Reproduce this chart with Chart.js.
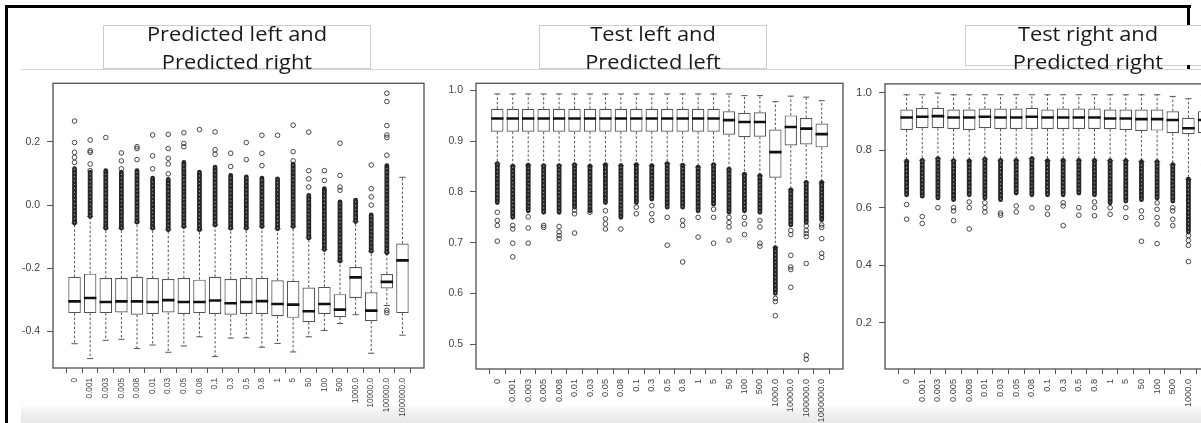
<!DOCTYPE html>
<html>
<head>
<meta charset="utf-8">
<script src="https://cdn.jsdelivr.net/npm/chart.js@4.4.1/dist/chart.umd.min.js"></script>
<style>
  html, body { margin: 0; padding: 0; background: #fff; }
  body { width: 1201px; height: 423px; overflow: hidden; position: relative; font-family: "Open Sans", sans-serif; }
  .abs { position: absolute; }
  canvas { position: absolute; }
  .tbox { position: absolute; border: 1px solid #cccccc; background: #fff; box-sizing: border-box; }
  .title { position: absolute; width: 300px; text-align: center; font-size: 19.5px; line-height: 27.7px; color: #1a1a1a; transform: scaleX(1.12); transform-origin: center top; white-space: nowrap; }
</style>
</head>
<body>
<div class="abs" style="left:21px;top:69px;width:1180px;height:1px;background:#d6d6d6"></div>
<div class="tbox" style="left:103px;top:25px;width:268px;height:44px"></div>
<div class="tbox" style="left:539px;top:25px;width:228px;height:44px"></div>
<div class="tbox" style="left:965px;top:25px;width:246px;height:41px"></div>
<div class="abs" style="left:21px;top:406px;width:1180px;height:17px;background:linear-gradient(to bottom,#fafafa 0,#f0f0f0 40%,#e9e9e9 100%)"></div>

<canvas id="panel1" width="430" height="353" style="left:0;top:70px"></canvas>
<canvas id="panel2" width="420" height="353" style="left:430px;top:70px"></canvas>
<canvas id="panel3" width="415" height="353" style="left:850px;top:70px"></canvas>

<div class="abs" style="left:5px;top:5px;width:3px;height:418px;background:#000"></div>
<div class="abs" style="left:5px;top:5px;width:1186px;height:3px;background:#000"></div>
<div class="abs" style="left:1187px;top:5px;width:3px;height:20px;background:#000"></div>
<div class="abs" style="left:1187px;top:65px;width:3px;height:4px;background:#000"></div>

<div class="title" style="left:87px;top:20px">Predicted left and<br>Predicted right</div>
<div class="title" style="left:503px;top:20px">Test left and<br>Predicted left</div>
<div class="title" style="left:938px;top:20px">Test right and<br>Predicted right</div>

<script>
// Shared x categories (same for all three panels)
const categories = ['0','0.001','0.003','0.005','0.008','0.01','0.03','0.05','0.08','0.1','0.3','0.5','0.8','1','5','50','100','500','1000.0','10000.0','100000.0','1000000.0'];

// Panel 1: Predicted left and Predicted right
const p1YTicks = [-0.4, -0.2, 0.0, 0.2];
const p1Q1 = [-0.342,-0.342,-0.342,-0.340,-0.347,-0.345,-0.340,-0.345,-0.342,-0.345,-0.347,-0.345,-0.345,-0.352,-0.357,-0.371,-0.345,-0.355,-0.294,-0.368,-0.264,-0.342];
const p1Median = [-0.305,-0.294,-0.307,-0.305,-0.305,-0.307,-0.301,-0.307,-0.307,-0.302,-0.311,-0.307,-0.304,-0.313,-0.315,-0.336,-0.313,-0.331,-0.229,-0.334,-0.243,-0.175];
const p1Q3 = [-0.227,-0.217,-0.231,-0.231,-0.227,-0.231,-0.234,-0.231,-0.236,-0.227,-0.234,-0.231,-0.231,-0.238,-0.240,-0.261,-0.259,-0.282,-0.196,-0.276,-0.218,-0.122];
const p1WhiskerLow = [-0.439,-0.486,-0.428,-0.425,-0.454,-0.443,-0.466,-0.446,-0.417,-0.479,-0.421,-0.420,-0.450,-0.438,-0.465,-0.417,-0.397,-0.375,-0.347,-0.469,-0.318,-0.412];
const p1WhiskerHigh = [-0.057,-0.036,-0.073,-0.073,-0.054,-0.073,-0.078,-0.068,-0.078,-0.063,-0.073,-0.073,-0.068,-0.075,-0.068,-0.104,-0.141,-0.177,-0.052,-0.146,-0.151,0.088];
const p1DenseLow = [-0.057,-0.036,-0.073,-0.073,-0.054,-0.073,-0.078,-0.068,-0.078,-0.063,-0.073,-0.073,-0.068,-0.075,-0.068,-0.104,-0.141,-0.177,-0.052,-0.146,-0.151,null];
const p1DenseHigh = [0.115,0.104,0.109,0.104,0.109,0.085,0.081,0.135,0.104,0.120,0.094,0.089,0.085,0.083,0.130,0.031,0.052,0.010,0.016,-0.031,0.125,null];
const p1Outliers = [
  [0.135,0.151,0.167,0.198,0.266],
  [0.109,0.130,0.167,0.172,0.206],
  [0.214],
  [0.115,0.140,0.165],
  [0.144,0.179,0.185],
  [0.115,0.156,0.222],
  [0.099,0.130,0.148,0.179,0.224],
  [0.185,0.195,0.229],
  [0.239],
  [0.161,0.175,0.232],
  [0.122,0.164],
  [0.144,0.198],
  [0.125,0.164,0.221],
  [0.221],
  [0.140,0.169,0.253],
  [0.057,0.083,0.109,0.231],
  [0.078,0.109],
  [0.047,0.057,0.094,0.196],
  [],
  [0.000,0.026,0.052,0.127],
  [0.158,0.214,0.222,0.252,0.328,0.354,-0.333,-0.341],
  []
];

// Panel 2: Test left and Predicted left
const p2YTicks = [0.5, 0.6, 0.7, 0.8, 0.9, 1.0];
const p2Q1 = [0.9187,0.9187,0.9187,0.9187,0.9187,0.9187,0.9187,0.9187,0.9187,0.9187,0.9187,0.9187,0.9187,0.9187,0.9187,0.913,0.908,0.909,0.828,0.8915,0.8935,0.888];
const p2Median = [0.945,0.945,0.945,0.945,0.945,0.945,0.945,0.945,0.945,0.945,0.945,0.945,0.945,0.945,0.945,0.9417,0.938,0.938,0.8785,0.928,0.925,0.914];
const p2Q3 = [0.964,0.964,0.964,0.964,0.964,0.964,0.964,0.964,0.964,0.964,0.964,0.964,0.964,0.964,0.964,0.959,0.956,0.957,0.923,0.951,0.946,0.935];
const p2WhiskerLow = [0.856,0.851,0.853,0.852,0.852,0.854,0.851,0.854,0.852,0.854,0.852,0.856,0.853,0.849,0.854,0.845,0.835,0.832,0.690,0.804,0.819,0.819];
const p2WhiskerHigh = [0.9933,0.9933,0.9933,0.9933,0.9933,0.9933,0.9933,0.9933,0.9933,0.9933,0.9933,0.9933,0.9933,0.9933,0.9933,0.9933,0.990,0.990,0.978,0.989,0.987,0.980];
const p2DenseHigh = [0.856,0.851,0.853,0.852,0.852,0.854,0.851,0.854,0.852,0.854,0.852,0.856,0.853,0.849,0.854,0.845,0.835,0.832,0.690,0.804,0.819,0.819];
const p2DenseLow = [0.779,0.750,0.763,0.760,0.760,0.770,0.763,0.779,0.750,0.779,0.786,0.770,0.770,0.763,0.776,0.760,0.763,0.760,0.600,0.735,0.740,0.745];
const p2Outliers = [
  [0.760,0.744,0.734,0.703],
  [0.734,0.727,0.699,0.672],
  [0.751,0.729,0.699],
  [0.734,0.730],
  [0.732,0.721,0.714,0.708],
  [0.764,0.757,0.719],
  [0.760],
  [0.763,0.747,0.737,0.727],
  [0.727],
  [0.770,0.757],
  [0.773,0.757,0.744],
  [0.750,0.695],
  [0.744,0.734,0.662],
  [0.750,0.711],
  [0.766,0.750,0.699],
  [0.750,0.740,0.731,0.705],
  [0.750,0.737,0.716],
  [0.744,0.731,0.699,0.693],
  [0.590,0.584,0.556],
  [0.724,0.716,0.675,0.652,0.647,0.612],
  [0.733,0.724,0.718,0.712,0.659,0.478,0.470],
  [0.735,0.730,0.708,0.679,0.671]
];

// Panel 3: Test right and Predicted right
const p3YTicks = [0.2, 0.4, 0.6, 0.8, 1.0];
const p3Q1 = [0.8706,0.8764,0.8764,0.8740,0.8706,0.8764,0.8740,0.8740,0.8740,0.8740,0.8740,0.8740,0.8740,0.8730,0.8706,0.8672,0.8684,0.8592,0.8558,0.859,0.855,0.850];
const p3Median = [0.9142,0.9165,0.9187,0.9142,0.9142,0.9165,0.9142,0.9142,0.9165,0.9142,0.9142,0.9142,0.9142,0.9107,0.9107,0.9084,0.9084,0.9050,0.8764,0.905,0.900,0.895];
const p3Q3 = [0.9416,0.9474,0.9474,0.9416,0.9416,0.9451,0.9451,0.9451,0.9474,0.9416,0.9451,0.9451,0.9451,0.9416,0.9416,0.9416,0.9416,0.9359,0.9130,0.936,0.930,0.925];
const p3WhiskerLow = [0.762,0.765,0.771,0.764,0.763,0.769,0.765,0.765,0.771,0.764,0.765,0.765,0.765,0.764,0.764,0.760,0.760,0.750,0.699,0.750,0.740,0.735];
const p3WhiskerHigh = [0.9931,0.9931,0.9990,0.9931,0.9931,0.9931,0.9931,0.9931,0.9931,0.9931,0.9931,0.9931,0.9931,0.9931,0.9931,0.9931,0.9931,0.9874,0.9794,0.990,0.988,0.985];
const p3DenseHigh = [0.762,0.765,0.771,0.764,0.763,0.769,0.765,0.765,0.771,0.764,0.765,0.765,0.765,0.764,0.764,0.760,0.760,0.750,0.699,0.750,0.740,0.735];
const p3DenseLow = [0.645,0.640,0.634,0.628,0.645,0.634,0.628,0.651,0.645,0.645,0.645,0.651,0.645,0.617,0.623,0.628,0.634,0.623,0.515,0.600,0.580,0.550];
const p3Outliers = [
  [0.611,0.560],
  [0.569,0.545],
  [0.600],
  [0.600,0.589,0.555],
  [0.620,0.600,0.526],
  [0.617,0.600,0.585],
  [0.581,0.574],
  [0.606,0.585],
  [0.600],
  [0.600,0.577],
  [0.617,0.606,0.5375],
  [0.600,0.574],
  [0.620,0.600,0.572],
  [0.600,0.577],
  [0.600,0.566],
  [0.589,0.566,0.483],
  [0.617,0.594,0.566,0.543,0.475],
  [0.600,0.589,0.560,0.5375],
  [0.503,0.486,0.469,0.4125],
  [0.550,0.500],
  [0.500],
  [0.300,0.076]
];

const AXIS_FONT = 'Liberation Sans, Arial, sans-serif';
const INK = '#444444';

// Box outline around the plotting region
const framePlugin = {
  id: 'frame',
  afterDatasetsDraw(chart) {
    const a = chart.chartArea, ctx = chart.ctx;
    ctx.save();
    ctx.strokeStyle = '#505050';
    ctx.lineWidth = 1.3;
    ctx.strokeRect(a.left, a.top, a.right - a.left, a.bottom - a.top);
    ctx.restore();
  }
};

function buildBoxplot(canvasId, s) {
  const whiskers = [], caps = [], medians = [], dense = [], points = [];
  categories.forEach((c, i) => {
    const x = i + 1;
    whiskers.push({x, y: s.q3[i]}, {x, y: s.hi[i]}, {x, y: null});
    whiskers.push({x, y: s.q1[i]}, {x, y: s.lo[i]}, {x, y: null});
    caps.push({x: x - 0.2, y: s.hi[i]}, {x: x + 0.2, y: s.hi[i]}, {x, y: null});
    caps.push({x: x - 0.2, y: s.lo[i]}, {x: x + 0.2, y: s.lo[i]}, {x, y: null});
    medians.push({x: x - 0.4, y: s.med[i]}, {x: x + 0.4, y: s.med[i]}, {x, y: null});
    if (s.denseLo[i] !== null) dense.push({x, y: s.denseLo[i]}, {x, y: s.denseHi[i]}, {x, y: null});
    s.out[i].forEach(v => points.push({x, y: v}));
  });
  const seg = {type: 'line', pointRadius: 0, spanGaps: false, fill: false, tension: 0};
  return new Chart(document.getElementById(canvasId), {
    type: 'bar',
    data: {
      datasets: [
        Object.assign({}, seg, {data: whiskers, borderColor: '#555', borderWidth: 1, borderDash: [2.5, 2], order: 6}),
        Object.assign({}, seg, {data: caps, borderColor: '#555', borderWidth: 1, order: 5}),
        {type: 'bar', data: categories.map((c, i) => ({x: i + 1, y: [s.q1[i], s.q3[i]]})),
         backgroundColor: '#ffffff', borderColor: '#555', borderWidth: 1.2, borderSkipped: false,
         barPercentage: 0.8, categoryPercentage: 1.0, order: 4},
        Object.assign({}, seg, {data: medians, borderColor: '#111', borderWidth: 2.6, borderCapStyle: 'butt', order: 3}),
        // densely packed outliers: dark column of overlapping circles
        Object.assign({}, seg, {data: dense, borderColor: '#262626', borderWidth: 4.8, borderCapStyle: 'round', order: 2}),
        Object.assign({}, seg, {data: dense, borderColor: 'rgba(190,190,190,0.8)', borderWidth: 1.1, borderDash: [1.2, 2.6], borderCapStyle: 'butt', order: 1}),
        {type: 'scatter', data: points, pointStyle: 'circle', pointRadius: 2.3, pointBorderWidth: 0.9,
         pointBorderColor: '#333', pointBackgroundColor: 'rgba(0,0,0,0)', order: 0}
      ]
    },
    options: {
      responsive: false,
      animation: false,
      devicePixelRatio: 1,
      layout: {padding: {top: s.padTop, right: s.padRight, left: 0, bottom: 0}},
      plugins: {legend: {display: false}, tooltip: {enabled: false}},
      scales: {
        x: {
          type: 'linear', min: -0.38, max: 23.38, offset: false,
          afterBuildTicks: sc => { sc.ticks = categories.map((c, i) => ({value: i + 1})); },
          afterFit: sc => { sc.height = s.xAxisHeight; },
          ticks: {callback: v => categories[v - 1], autoSkip: false, minRotation: 90, maxRotation: 90,
                  font: {family: AXIS_FONT, size: s.xFont}, color: INK, padding: 5},
          grid: {drawOnChartArea: false, drawTicks: true, tickLength: 5, color: '#555'},
          border: {display: false}
        },
        y: {
          type: 'linear', min: s.yMin, max: s.yMax,
          afterBuildTicks: sc => { sc.ticks = s.yTicks.map(v => ({value: v})); },
          afterFit: sc => { sc.width = s.yAxisWidth; },
          ticks: {callback: v => v.toFixed(1), font: {family: AXIS_FONT, size: s.yFont}, color: INK, padding: 7},
          grid: {drawOnChartArea: false, drawTicks: true, tickLength: 6, color: '#555'},
          border: {display: false}
        }
      }
    },
    plugins: [framePlugin]
  });
}

buildBoxplot('panel1', {
  q1: p1Q1, med: p1Median, q3: p1Q3, lo: p1WhiskerLow, hi: p1WhiskerHigh,
  denseLo: p1DenseLow, denseHi: p1DenseHigh, out: p1Outliers, yTicks: p1YTicks,
  yMin: -0.5158, yMax: 0.3856, padTop: 10, padRight: 6, yAxisWidth: 53, xAxisHeight: 55,
  xFont: 8.2, yFont: 10.5
});
buildBoxplot('panel2', {
  q1: p2Q1, med: p2Median, q3: p2Q3, lo: p2WhiskerLow, hi: p2WhiskerHigh,
  denseLo: p2DenseLow, denseHi: p2DenseHigh, out: p2Outliers, yTicks: p2YTicks,
  yMin: 0.4509, yMax: 1.0143, padTop: 12, padRight: 7, yAxisWidth: 46, xAxisHeight: 54,
  xFont: 9.2, yFont: 10.5
});
buildBoxplot('panel3', {
  q1: p3Q1, med: p3Median, q3: p3Q3, lo: p3WhiskerLow, hi: p3WhiskerHigh,
  denseLo: p3DenseLow, denseHi: p3DenseHigh, out: p3Outliers, yTicks: p3YTicks,
  yMin: 0.0386, yMax: 1.0309, padTop: 10, padRight: 8, yAxisWidth: 35, xAxisHeight: 54,
  xFont: 9.2, yFont: 11.5
});
</script>
</body>
</html>
